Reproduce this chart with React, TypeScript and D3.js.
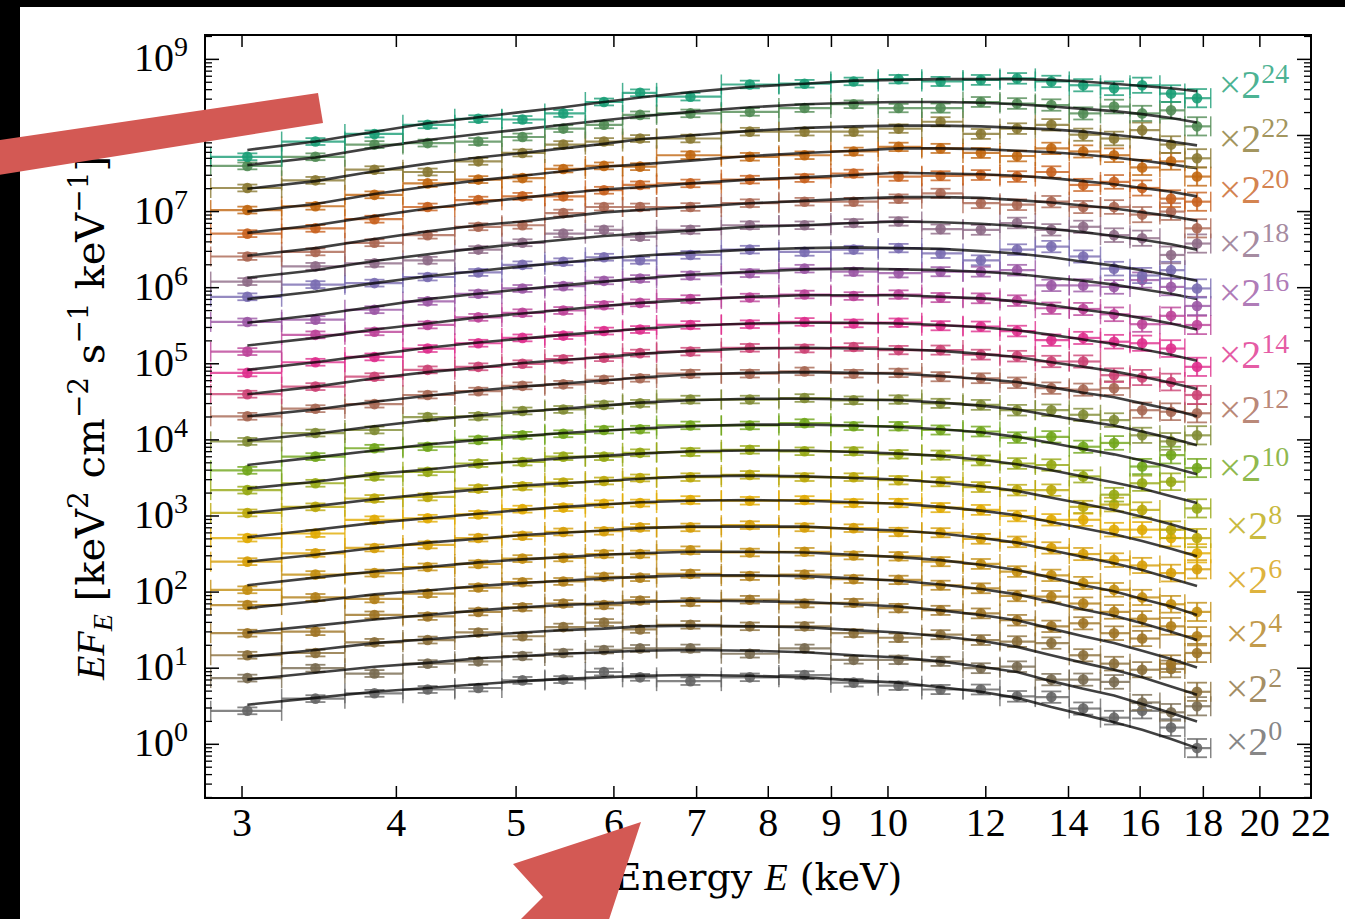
import React, { useEffect } from "react";
import * as d3 from "d3";

const binEdges = [2.83, 3.23, 3.634, 4.049, 4.46, 4.869, 5.275, 5.689, 6.098, 6.497, 7.33, 8.16, 8.99, 9.82, 10.65, 11.5, 12.32, 13.16, 14.02, 14.86, 15.7, 16.6, 17.39, 18.25];
const binEnergies = [3.03, 3.44, 3.84, 4.24, 4.66, 5.06, 5.46, 5.89, 6.3, 6.92, 7.73, 8.56, 9.38, 10.2, 11.03, 11.89, 12.72, 13.56, 14.39, 15.24, 16.06, 16.95, 17.79];
const xTickValues = [3, 4, 5, 6, 7, 8, 9, 10, 12, 14, 16, 18, 20, 22];
const yDecades = [0, 1, 2, 3, 4, 5, 6, 7, 8, 9];
const seriesExponents = [0, 1, 2, 3, 4, 5, 6, 7, 8, 9, 10, 11, 12, 13, 14, 15, 16, 17, 18, 19, 20, 21, 22, 23, 24];
const labelledExponents = [0, 2, 4, 6, 8, 10, 12, 14, 16, 18, 20, 22, 24];
const errLog = [0.045, 0.045, 0.045, 0.045, 0.045, 0.045, 0.045, 0.045, 0.045, 0.05, 0.05, 0.05, 0.05, 0.055, 0.06, 0.065, 0.07, 0.075, 0.08, 0.09, 0.1, 0.11, 0.12];

// log10 of plotted EF_E (already scaled by 2^k): model curves
const modelLog = [
  [0.52, 0.61, 0.69, 0.74, 0.79, 0.83, 0.86, 0.88, 0.90, 0.91, 0.90, 0.88, 0.84, 0.81, 0.75, 0.69, 0.61, 0.49, 0.39, 0.29, 0.19, 0.07, -0.05],
  [0.85, 0.94, 1.02, 1.07, 1.13, 1.16, 1.19, 1.21, 1.23, 1.24, 1.23, 1.21, 1.17, 1.14, 1.09, 1.02, 0.95, 0.83, 0.73, 0.64, 0.53, 0.41, 0.30],
  [1.15, 1.24, 1.33, 1.38, 1.43, 1.47, 1.50, 1.52, 1.55, 1.56, 1.55, 1.54, 1.50, 1.47, 1.42, 1.36, 1.28, 1.17, 1.07, 0.98, 0.88, 0.76, 0.65],
  [1.47, 1.56, 1.64, 1.70, 1.76, 1.80, 1.83, 1.85, 1.87, 1.89, 1.88, 1.87, 1.84, 1.81, 1.76, 1.70, 1.63, 1.52, 1.42, 1.33, 1.23, 1.12, 1.01],
  [1.79, 1.88, 1.97, 2.02, 2.08, 2.12, 2.15, 2.18, 2.20, 2.22, 2.22, 2.21, 2.18, 2.15, 2.10, 2.04, 1.97, 1.87, 1.77, 1.69, 1.59, 1.48, 1.37],
  [2.09, 2.19, 2.27, 2.33, 2.39, 2.43, 2.46, 2.49, 2.51, 2.53, 2.53, 2.52, 2.49, 2.46, 2.42, 2.36, 2.29, 2.19, 2.09, 2.01, 1.91, 1.81, 1.70],
  [2.40, 2.49, 2.58, 2.65, 2.70, 2.75, 2.78, 2.81, 2.84, 2.86, 2.86, 2.86, 2.83, 2.81, 2.77, 2.71, 2.65, 2.55, 2.46, 2.38, 2.29, 2.18, 2.08],
  [2.72, 2.82, 2.91, 2.97, 3.03, 3.08, 3.12, 3.15, 3.18, 3.20, 3.21, 3.20, 3.18, 3.16, 3.12, 3.07, 3.01, 2.92, 2.84, 2.76, 2.67, 2.57, 2.47],
  [3.04, 3.13, 3.22, 3.29, 3.35, 3.40, 3.43, 3.46, 3.49, 3.52, 3.53, 3.52, 3.50, 3.48, 3.44, 3.39, 3.33, 3.24, 3.16, 3.08, 2.99, 2.89, 2.79],
  [3.36, 3.45, 3.55, 3.61, 3.68, 3.72, 3.76, 3.79, 3.82, 3.85, 3.86, 3.86, 3.84, 3.82, 3.79, 3.74, 3.68, 3.60, 3.52, 3.44, 3.36, 3.26, 3.17],
  [3.67, 3.77, 3.86, 3.94, 4.00, 4.05, 4.09, 4.12, 4.15, 4.18, 4.20, 4.20, 4.19, 4.17, 4.14, 4.10, 4.04, 3.96, 3.88, 3.81, 3.73, 3.64, 3.55],
  [3.99, 4.08, 4.18, 4.26, 4.32, 4.37, 4.41, 4.45, 4.49, 4.52, 4.54, 4.54, 4.53, 4.52, 4.49, 4.45, 4.40, 4.32, 4.25, 4.19, 4.11, 4.02, 3.93],
  [4.31, 4.40, 4.50, 4.58, 4.65, 4.70, 4.74, 4.78, 4.82, 4.86, 4.88, 4.89, 4.88, 4.87, 4.84, 4.80, 4.76, 4.69, 4.62, 4.56, 4.48, 4.40, 4.31],
  [4.60, 4.70, 4.81, 4.89, 4.95, 5.01, 5.05, 5.09, 5.13, 5.17, 5.20, 5.21, 5.20, 5.19, 5.17, 5.13, 5.09, 5.02, 4.96, 4.90, 4.83, 4.75, 4.67],
  [4.92, 5.02, 5.12, 5.21, 5.28, 5.33, 5.38, 5.42, 5.46, 5.50, 5.53, 5.54, 5.54, 5.53, 5.51, 5.48, 5.44, 5.38, 5.32, 5.26, 5.19, 5.12, 5.04],
  [5.24, 5.34, 5.45, 5.53, 5.61, 5.66, 5.71, 5.76, 5.80, 5.84, 5.88, 5.90, 5.90, 5.90, 5.88, 5.86, 5.82, 5.77, 5.71, 5.66, 5.60, 5.53, 5.45],
  [5.54, 5.64, 5.75, 5.85, 5.92, 5.98, 6.03, 6.08, 6.12, 6.17, 6.21, 6.24, 6.25, 6.24, 6.23, 6.21, 6.18, 6.13, 6.09, 6.04, 5.98, 5.92, 5.85],
  [5.85, 5.95, 6.06, 6.15, 6.22, 6.28, 6.33, 6.38, 6.42, 6.46, 6.50, 6.52, 6.53, 6.52, 6.51, 6.48, 6.45, 6.40, 6.34, 6.29, 6.23, 6.16, 6.09],
  [6.13, 6.23, 6.35, 6.44, 6.52, 6.58, 6.63, 6.68, 6.71, 6.75, 6.80, 6.82, 6.85, 6.87, 6.86, 6.84, 6.81, 6.77, 6.73, 6.68, 6.63, 6.57, 6.50],
  [6.42, 6.52, 6.64, 6.74, 6.82, 6.87, 6.93, 6.99, 7.02, 7.06, 7.11, 7.14, 7.17, 7.19, 7.19, 7.18, 7.15, 7.12, 7.08, 7.04, 6.99, 6.94, 6.88],
  [6.72, 6.82, 6.94, 7.04, 7.12, 7.18, 7.24, 7.29, 7.32, 7.37, 7.42, 7.45, 7.48, 7.51, 7.50, 7.49, 7.47, 7.44, 7.40, 7.36, 7.31, 7.26, 7.20],
  [7.00, 7.10, 7.23, 7.33, 7.41, 7.47, 7.53, 7.59, 7.62, 7.67, 7.73, 7.77, 7.80, 7.83, 7.83, 7.82, 7.80, 7.78, 7.75, 7.71, 7.67, 7.62, 7.57],
  [7.30, 7.40, 7.53, 7.63, 7.71, 7.77, 7.83, 7.89, 7.95, 8.00, 8.06, 8.10, 8.12, 8.13, 8.13, 8.12, 8.10, 8.08, 8.05, 8.01, 7.97, 7.92, 7.87],
  [7.61, 7.71, 7.84, 7.94, 8.02, 8.08, 8.14, 8.20, 8.25, 8.31, 8.37, 8.41, 8.43, 8.44, 8.44, 8.43, 8.41, 8.38, 8.35, 8.32, 8.28, 8.23, 8.17],
  [7.81, 7.92, 8.05, 8.16, 8.24, 8.31, 8.37, 8.44, 8.50, 8.57, 8.64, 8.68, 8.72, 8.73, 8.74, 8.74, 8.74, 8.73, 8.71, 8.68, 8.65, 8.62, 8.58],
];

// log10 of plotted EF_E (already scaled by 2^k): observed points
const obsLog = [
  [0.44, 0.60, 0.67, 0.72, 0.74, 0.84, 0.85, 0.95, 0.88, 0.83, 0.88, 0.91, 0.81, 0.77, 0.72, 0.72, 0.63, 0.62, 0.47, 0.35, 0.44, 0.22, -0.05],
  [0.87, 1.00, 0.93, 1.06, 1.09, 1.16, 1.20, 1.24, 1.26, 1.26, 1.19, 1.26, 1.11, 1.11, 1.09, 1.00, 1.02, 0.85, 0.85, 0.82, 0.55, 0.42, 0.50],
  [1.17, 1.20, 1.34, 1.37, 1.47, 1.42, 1.54, 1.60, 1.51, 1.57, 1.55, 1.55, 1.46, 1.40, 1.44, 1.37, 1.35, 1.33, 1.17, 1.06, 0.98, 0.99, 0.69],
  [1.46, 1.48, 1.70, 1.68, 1.74, 1.80, 1.85, 1.83, 1.89, 1.87, 1.90, 1.85, 1.86, 1.79, 1.76, 1.72, 1.63, 1.55, 1.59, 1.46, 1.39, 1.06, 1.20],
  [1.83, 1.93, 1.91, 1.98, 2.06, 2.13, 2.14, 2.20, 2.19, 2.24, 2.21, 2.23, 2.17, 2.16, 2.09, 2.05, 1.95, 1.94, 1.85, 1.74, 1.65, 1.55, 1.42],
  [2.03, 2.23, 2.25, 2.33, 2.37, 2.44, 2.45, 2.50, 2.50, 2.55, 2.52, 2.53, 2.48, 2.47, 2.40, 2.37, 2.27, 2.22, 2.12, 2.03, 1.93, 1.84, 1.74],
  [2.40, 2.51, 2.58, 2.62, 2.71, 2.74, 2.79, 2.80, 2.85, 2.85, 2.88, 2.85, 2.84, 2.79, 2.78, 2.70, 2.66, 2.58, 2.50, 2.42, 2.35, 2.25, 2.30],
  [2.71, 2.77, 2.95, 2.97, 3.02, 3.09, 3.11, 3.16, 3.17, 3.21, 3.20, 3.21, 3.17, 3.17, 3.11, 3.08, 3.00, 2.95, 2.95, 2.82, 2.82, 2.71, 2.51],
  [3.04, 3.12, 3.23, 3.25, 3.36, 3.39, 3.44, 3.46, 3.50, 3.51, 3.54, 3.51, 3.51, 3.47, 3.45, 3.38, 3.34, 3.34, 3.12, 3.15, 3.08, 2.82, 2.71],
  [3.34, 3.43, 3.52, 3.58, 3.69, 3.71, 3.78, 3.78, 3.83, 3.84, 3.87, 3.85, 3.85, 3.81, 3.80, 3.73, 3.69, 3.67, 3.52, 3.28, 3.43, 3.45, 3.10],
  [3.60, 3.78, 3.89, 3.91, 4.00, 4.06, 4.08, 4.13, 4.14, 4.19, 4.19, 4.22, 4.18, 4.18, 4.13, 4.11, 4.03, 4.04, 3.91, 3.96, 3.65, 3.80, 3.63],
  [3.98, 4.09, 4.13, 4.30, 4.31, 4.38, 4.40, 4.46, 4.48, 4.53, 4.53, 4.55, 4.52, 4.53, 4.48, 4.46, 4.39, 4.39, 4.33, 4.26, 4.06, 3.98, 4.06],
  [4.31, 4.41, 4.47, 4.59, 4.64, 4.71, 4.73, 4.79, 4.81, 4.87, 4.87, 4.90, 4.87, 4.88, 4.83, 4.81, 4.75, 4.68, 4.66, 4.68, 4.39, 4.37, 4.35],
  [4.60, 4.70, 4.83, 4.92, 4.96, 5.00, 5.06, 5.08, 5.14, 5.16, 5.21, 5.20, 5.22, 5.18, 5.18, 5.12, 5.10, 5.03, 5.03, 4.85, 4.82, 4.76, 4.59],
  [4.88, 5.02, 5.09, 5.20, 5.27, 5.34, 5.37, 5.43, 5.45, 5.51, 5.52, 5.55, 5.53, 5.54, 5.50, 5.49, 5.43, 5.31, 5.34, 5.29, 5.27, 5.20, 4.96],
  [5.16, 5.38, 5.42, 5.51, 5.61, 5.67, 5.70, 5.77, 5.80, 5.85, 5.87, 5.91, 5.89, 5.91, 5.87, 5.86, 5.83, 5.73, 5.72, 5.65, 5.52, 5.63, 5.51],
  [5.55, 5.58, 5.71, 5.82, 5.92, 5.99, 6.02, 6.09, 6.12, 6.16, 6.19, 6.25, 6.21, 6.19, 6.21, 6.21, 6.23, 6.03, 6.03, 6.01, 6.10, 6.01, 5.76],
  [5.88, 6.04, 6.06, 6.14, 6.20, 6.30, 6.34, 6.40, 6.36, 6.43, 6.50, 6.47, 6.50, 6.52, 6.45, 6.36, 6.50, 6.54, 6.41, 6.25, 6.16, 6.23, 5.99],
  [6.08, 6.28, 6.32, 6.36, 6.50, 6.59, 6.71, 6.76, 6.67, 6.76, 6.82, 6.82, 6.85, 6.87, 6.77, 6.76, 6.85, 6.76, 6.80, 6.69, 6.65, 6.43, 6.58],
  [6.41, 6.47, 6.59, 6.69, 6.80, 6.82, 6.98, 7.06, 7.06, 7.06, 7.11, 7.13, 7.13, 7.17, 7.24, 7.11, 7.09, 7.13, 7.06, 7.06, 6.96, 7.00, 6.78],
  [6.71, 6.78, 6.90, 7.06, 7.15, 7.20, 7.20, 7.28, 7.35, 7.37, 7.42, 7.44, 7.50, 7.46, 7.47, 7.48, 7.46, 7.52, 7.35, 7.39, 7.31, 7.17, 7.13],
  [7.02, 7.07, 7.22, 7.37, 7.42, 7.44, 7.56, 7.60, 7.59, 7.74, 7.72, 7.74, 7.79, 7.85, 7.83, 7.77, 7.73, 7.83, 7.79, 7.74, 7.58, 7.66, 7.46],
  [7.31, 7.41, 7.55, 7.52, 7.66, 7.77, 7.88, 7.92, 7.96, 7.96, 8.05, 8.05, 8.05, 8.09, 8.18, 8.02, 8.09, 8.14, 8.01, 7.96, 8.07, 7.88, 7.70],
  [7.60, 7.72, 7.88, 7.90, 7.92, 7.98, 8.09, 8.14, 8.27, 8.29, 8.31, 8.36, 8.41, 8.36, 8.36, 8.44, 8.42, 8.40, 8.29, 8.38, 8.29, 8.33, 8.12],
  [7.72, 7.92, 8.02, 8.14, 8.22, 8.21, 8.29, 8.44, 8.56, 8.51, 8.67, 8.68, 8.71, 8.74, 8.71, 8.73, 8.75, 8.71, 8.66, 8.62, 8.66, 8.55, 8.49],
];

const CAP = 10;
const SERIF = "'DejaVu Serif', serif";
const MATH = "'Liberation Serif', serif";

export default function App() {
  useEffect(() => {
    document.body.style.margin = "0";
  }, []);

  const W = 1345, H = 919;
  const x = d3.scaleLog().domain([2.8, 22]).range([205, 1311]);
  const y = d3.scaleLog().domain([0.197, 2.09e9]).range([798, 35]);
  const color = d3.piecewise(d3.interpolateRgb, d3.schemeDark2 as string[]);
  const seriesColor = (k: number) => color((24 - k) / 24);

  const [x0, x1] = x.range();
  const [yb, yt] = y.range();

  const minorY: number[] = [];
  for (let d = -1; d <= 9; d++) {
    for (let m = 2; m <= 9; m++) {
      const v = m * Math.pow(10, d);
      if (v >= 0.197 && v <= 2.09e9) minorY.push(v);
    }
  }

  const line = d3
    .line<number>()
    .x((_, i) => x(binEnergies[i]))
    .y((v) => y(Math.pow(10, v)));

  return (
    <svg width={W} height={H} style={{ position: "absolute", left: 0, top: 0, display: "block" }}>
      <rect x={0} y={0} width={W} height={H} fill="#fff" />

      {seriesExponents.map((k) => {
        const c = seriesColor(k);
        return (
          <g key={k}>
            {obsLog[k].map((L, i) => {
              const cx = x(binEnergies[i]);
              const cy = y(Math.pow(10, L));
              const ex0 = x(binEdges[i]);
              const ex1 = x(binEdges[i + 1]);
              const yTop = y(Math.pow(10, L + errLog[i]));
              const yBot = y(Math.pow(10, L - errLog[i]));
              return (
                <g key={i} stroke={c} strokeOpacity={0.8} fill="none">
                  <line x1={ex0} x2={ex1} y1={cy} y2={cy} strokeWidth={2.2} />
                  <line x1={ex0} x2={ex0} y1={cy - CAP} y2={cy + CAP} strokeWidth={1.5} />
                  <line x1={ex1} x2={ex1} y1={cy - CAP} y2={cy + CAP} strokeWidth={1.5} />
                  <line x1={cx} x2={cx} y1={yTop} y2={yBot} strokeWidth={2.2} />
                  <line x1={cx - CAP} x2={cx + CAP} y1={yTop} y2={yTop} strokeWidth={1.8} />
                  <line x1={cx - CAP} x2={cx + CAP} y1={yBot} y2={yBot} strokeWidth={1.8} />
                  <circle cx={cx} cy={cy} r={5.3} fill={c} fillOpacity={0.9} stroke="none" />
                </g>
              );
            })}
            <path d={line(modelLog[k]) || ""} fill="none" stroke="#000" strokeOpacity={0.75} strokeWidth={2.6} />
          </g>
        );
      })}

      {labelledExponents.map((k) => (
        <text
          key={k}
          x={1254}
          y={y(Math.pow(10, modelLog[k][modelLog[k].length - 1])) + 7}
          textAnchor="middle"
          fontFamily={MATH}
          fontSize={40}
          fill={seriesColor(k)}
          fillOpacity={0.8}
        >
          {"×2"}
          <tspan fontSize={28} dy={-15}>{k}</tspan>
        </text>
      ))}

      <rect x={x0} y={yt} width={x1 - x0} height={yb - yt} fill="none" stroke="#000" strokeWidth={2} />

      {xTickValues.map((t) => (
        <g key={t}>
          <line x1={x(t)} x2={x(t)} y1={yb} y2={yb - 12} stroke="#000" strokeWidth={1.5} />
          <line x1={x(t)} x2={x(t)} y1={yt} y2={yt + 12} stroke="#000" strokeWidth={1.5} />
          <text x={x(t)} y={836} textAnchor="middle" fontFamily={MATH} fontSize={40} fill="#000">
            {t}
          </text>
        </g>
      ))}

      {minorY.map((v, i) => (
        <g key={"m" + i}>
          <line x1={x0} x2={x0 + 7} y1={y(v)} y2={y(v)} stroke="#000" strokeWidth={1.3} />
          <line x1={x1} x2={x1 - 7} y1={y(v)} y2={y(v)} stroke="#000" strokeWidth={1.3} />
        </g>
      ))}
      {yDecades.map((d) => {
        const ty = y(Math.pow(10, d));
        return (
          <g key={d}>
            <line x1={x0} x2={x0 + 14} y1={ty} y2={ty} stroke="#000" strokeWidth={1.5} />
            <line x1={x1} x2={x1 - 14} y1={ty} y2={ty} stroke="#000" strokeWidth={1.5} />
            <text x={188} y={ty + 12} textAnchor="end" fontFamily={MATH} fontSize={40} fill="#000">
              10
              <tspan fontSize={28} dy={-15}>{d}</tspan>
            </text>
          </g>
        );
      })}

      <text x={758} y={890} textAnchor="middle" fontFamily={SERIF} fontSize={38} fill="#000" style={{ whiteSpace: "pre" }}>
        {"Energy "}
        <tspan fontStyle="italic" fontFamily={MATH}>E</tspan>
        {" (keV)"}
      </text>
      <text
        transform="translate(104,418) rotate(-90)"
        textAnchor="middle"
        fontFamily={SERIF}
        fontSize={40}
        fill="#000"
        style={{ whiteSpace: "pre" }}
      >
        <tspan fontStyle="italic" fontFamily={MATH}>EF</tspan>
        <tspan fontStyle="italic" fontFamily={MATH} fontSize={28} dy={8}>E</tspan>
        <tspan dy={-8}>{" [keV"}</tspan>
        <tspan fontSize={28} dy={-16}>2</tspan>
        <tspan dy={16}>{" cm"}</tspan>
        <tspan fontSize={28} dy={-16}>{"−2"}</tspan>
        <tspan dy={16}>{" s"}</tspan>
        <tspan fontSize={28} dy={-16}>{"−1"}</tspan>
        <tspan dy={16}>{" keV"}</tspan>
        <tspan fontSize={28} dy={-16}>{"−1"}</tspan>
        <tspan dy={16}>{"]"}</tspan>
      </text>

      <rect x={0} y={0} width={W} height={7} fill="#000" />
      <rect x={0} y={0} width={20} height={H} fill="#000" />
      <polygon points="318,93 323,123 -20,178 -20,143" fill="#d35954" />
      <polygon points="641,822 513,864 543,897 443,997 466,1020 566,920 599,950" fill="#d35954" />
    </svg>
  );
}
